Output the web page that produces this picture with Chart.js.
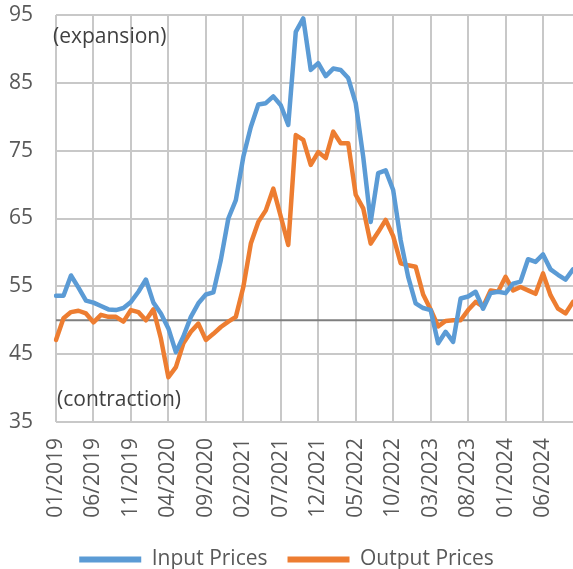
<!DOCTYPE html>
<html>
<head>
<meta charset="utf-8">
<script src="https://cdn.jsdelivr.net/npm/chart.js@4.4.1/dist/chart.umd.min.js"></script>
<style>
  html, body { margin: 0; padding: 0; background: #fff; }
</style>
</head>
<body>
<canvas id="priceChart" width="573" height="569"></canvas>
<script>
// Monthly survey readings, 01/2019 - 10/2024
const months = [
  '01/2019', '02/2019', '03/2019', '04/2019', '05/2019', '06/2019', '07/2019', '08/2019', '09/2019', '10/2019', '11/2019', '12/2019',
  '01/2020', '02/2020', '03/2020', '04/2020', '05/2020', '06/2020', '07/2020', '08/2020', '09/2020', '10/2020', '11/2020', '12/2020',
  '01/2021', '02/2021', '03/2021', '04/2021', '05/2021', '06/2021', '07/2021', '08/2021', '09/2021', '10/2021', '11/2021', '12/2021',
  '01/2022', '02/2022', '03/2022', '04/2022', '05/2022', '06/2022', '07/2022', '08/2022', '09/2022', '10/2022', '11/2022', '12/2022',
  '01/2023', '02/2023', '03/2023', '04/2023', '05/2023', '06/2023', '07/2023', '08/2023', '09/2023', '10/2023', '11/2023', '12/2023',
  '01/2024', '02/2024', '03/2024', '04/2024', '05/2024', '06/2024', '07/2024', '08/2024', '09/2024', '10/2024'
];

const inputPrices = [
  53.6, 53.6, 56.6, 54.8, 52.9, 52.6, 52.1, 51.6, 51.5, 51.8, 52.7, 54.2,
  56.0, 52.6, 51.0, 48.8, 45.3, 47.6, 50.5, 52.5, 53.8, 54.1, 58.9, 65.0,
  67.7, 74.1, 78.5, 81.8, 82.0, 83.0, 81.7, 78.8, 92.5, 94.5, 86.9, 87.9,
  86.0, 87.1, 86.9, 85.7, 82.0, 74.1, 64.5, 71.7, 72.1, 69.2, 61.8, 56.4,
  52.5, 51.8, 51.5, 46.6, 48.3, 46.8, 53.2, 53.5, 54.2, 51.7, 54.0, 54.2,
  54.0, 55.4, 55.7, 59.0, 58.6, 59.7, 57.5, 56.7, 56.0, 57.5
];

const outputPrices = [
  47.1, 50.3, 51.2, 51.4, 51.0, 49.7, 50.8, 50.5, 50.5, 49.8, 51.5, 51.2,
  50.0, 51.6, 47.3, 41.6, 43.1, 46.6, 48.3, 49.5, 47.1, 48.0, 49.0, 49.8,
  50.5, 54.9, 61.3, 64.5, 66.2, 69.4, 65.3, 61.1, 77.3, 76.6, 72.9, 74.8,
  73.9, 77.8, 76.1, 76.1, 68.5, 66.5, 61.3, 63.0, 64.8, 62.4, 58.4, 58.1,
  57.9, 53.8, 51.6, 49.1, 49.9, 50.0, 50.0, 51.5, 52.7, 52.0, 54.4, 54.2,
  56.4, 54.4, 54.9, 54.4, 53.9, 56.9, 53.7, 51.7, 51.0, 52.7
];

const seriesNames = ['Input Prices', 'Output Prices'];
const zoneNames = ['(expansion)', '(contraction)'];
const yMin = 35;
const yMax = 95;
const yStep = 10;
const neutralLevel = 50;   // 50 = no change
const labelEvery = 5;      // one date label every 5 months

const FONT = "'Open Sans', 'Liberation Sans', sans-serif";
const TEXT = '#595959';
const GRID = '#c8c8c8';

// neutral line under the series, zone captions on top
const zonePlugin = {
  id: 'zones',
  beforeDatasetsDraw(chart) {
    const { ctx, chartArea, scales } = chart;
    const py = scales.y.getPixelForValue(neutralLevel);
    ctx.save();
    ctx.globalAlpha = 1;
    ctx.globalCompositeOperation = 'source-over';
    ctx.strokeStyle = '#7f7f7f';
    ctx.lineWidth = 2;
    ctx.beginPath();
    ctx.moveTo(chartArea.left, py);
    ctx.lineTo(chartArea.right, py);
    ctx.stroke();
    ctx.restore();
  },
  afterDraw(chart) {
    const { ctx, chartArea, scales } = chart;
    ctx.save();
    ctx.font = '21px ' + FONT;
    ctx.fillStyle = '#404040';
    ctx.textAlign = 'left';
    ctx.textBaseline = 'middle';
    ctx.fillText(zoneNames[0], chartArea.left - 3, scales.y.getPixelForValue(91.8));
    ctx.fillText(zoneNames[1], chartArea.left + 1, scales.y.getPixelForValue(38.2));
    ctx.restore();
  }
};

const lineStyle = {
  borderWidth: 4.5,
  pointRadius: 0,
  tension: 0,
  fill: false,
  borderJoinStyle: 'round',
  borderCapStyle: 'round'
};

const priceChart = new Chart(document.getElementById('priceChart'), {
  type: 'line',
  data: {
    labels: months,
    datasets: [
      Object.assign({ label: seriesNames[0], data: inputPrices, borderColor: '#5b9bd5', backgroundColor: '#5b9bd5' }, lineStyle),
      Object.assign({ label: seriesNames[1], data: outputPrices, borderColor: '#ed7d31', backgroundColor: '#ed7d31' }, lineStyle)
    ]
  },
  options: {
    responsive: false,
    animation: false,
    devicePixelRatio: 1,
    layout: {
      padding: { left: 0, top: 15, right: 0, bottom: -11 }
    },
    plugins: {
      tooltip: { enabled: false },
      legend: {
        position: 'bottom',
        labels: {
          boxWidth: 62,
          boxHeight: 6,
          padding: 20,
          color: TEXT,
          font: { family: FONT, size: 21 },
          generateLabels(c) {
            const items = Chart.defaults.plugins.legend.labels.generateLabels(c);
            items.forEach(it => { it.lineWidth = 0; });
            return items;
          }
        }
      }
    },
    scales: {
      x: {
        border: { display: false },
        grid: {
          drawTicks: false,
          lineWidth: 2,
          color: ctx => (ctx.index % labelEvery === 0 ? GRID : 'rgba(0,0,0,0)')
        },
        ticks: {
          autoSkip: false,
          minRotation: 90,
          maxRotation: 90,
          padding: 16,
          color: TEXT,
          font: { family: FONT, size: 21 },
          callback: function (value, index) {
            return index % labelEvery === 0 ? this.getLabelForValue(value) : '';
          }
        },
        afterFit(scale) {
          scale.paddingLeft = 0;
          scale.paddingRight = 0;
          scale.height = 107;
        }
      },
      y: {
        min: yMin,
        max: yMax,
        border: { display: false },
        grid: { drawTicks: false, lineWidth: 2, color: GRID },
        ticks: {
          stepSize: yStep,
          padding: 23,
          color: TEXT,
          font: { family: FONT, size: 21 }
        },
        afterFit(scale) {
          scale.width = 56;
          scale.paddingTop = 0;
          scale.paddingBottom = 0;
        }
      }
    }
  },
  plugins: [zonePlugin]
});
</script>
</body>
</html>
